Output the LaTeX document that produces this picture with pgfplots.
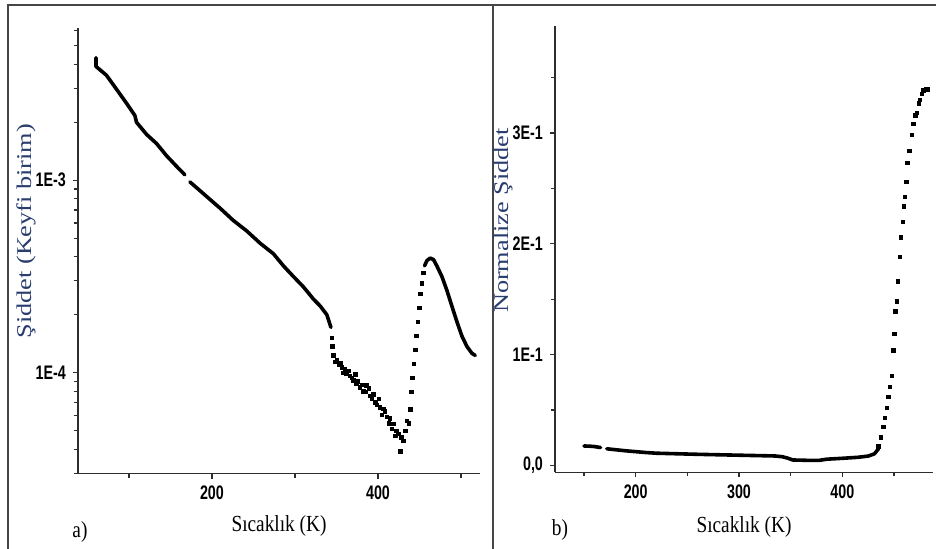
\documentclass[border=0pt]{standalone}
\usepackage{fontspec}
\setmainfont{Liberation Serif}
\newfontfamily\tickfont[FakeStretch=0.73]{Liberation Sans}
\newfontfamily\xlabfont[FakeStretch=0.84]{Liberation Serif}
\newfontfamily\ylabfont[FakeStretch=1.25]{Liberation Serif}
\usepackage{pgfplots}
\pgfplotsset{compat=1.18}
\definecolor{ylab}{RGB}{40,60,110}
\definecolor{axc}{RGB}{45,45,45}
\definecolor{framec}{RGB}{70,70,70}

\pgfplotsset{
  common/.style={
    scale only axis,
    axis x line*=bottom, axis y line*=left,
    axis line style={axc, line width=0.65pt},
    every tick/.style={axc, line width=0.6pt},
    tick align=outside,
    major tick length=2.5pt, minor tick length=2pt,
    ticklabel style={font=\tickfont\bfseries\fontsize{9.8}{10}\selectfont, text=black},
    xlabel style={font=\xlabfont\fontsize{11.5}{12}\selectfont, at={(axis description cs:0.5,0)}, anchor=center},
    ylabel style={font=\ylabfont\fontsize{10.5}{11}\selectfont, text=ylab, anchor=center},
    clip=false,
  },
  dense/.style={black, line width=1.8pt, line join=round, line cap=round, no markers},
  dots/.style={black, only marks, mark=square*, mark size=0.85pt},
}

\begin{document}
\begin{tikzpicture}[x=1pt,y=1pt]
\useasboundingbox (0,0) rectangle (468,274.5);
\draw[framec, line width=0.75pt] (4,0) -- (4,272) -- (468,272);
\draw[framec, line width=0.75pt] (246.5,0) -- (246.5,272);

% ---------- panel a ----------
\begin{axis}[common,
  at={(39pt,37.7pt)}, anchor=south west,
  width=201pt, height=222.8pt,
  ymode=log,
  xmin=38.6, xmax=522.9,
  ymin=2.99e-5, ymax=6.18e-3,
  xtick={200,400}, xticklabels={200,400},
  minor xtick={100,300,500},
  ytick={1e-4,1e-3}, yticklabels={1E-4,1E-3},
  minor ytick={3e-5,4e-5,5e-5,6e-5,7e-5,8e-5,9e-5,2e-4,3e-4,4e-4,5e-4,6e-4,7e-4,8e-4,9e-4,2e-3,3e-3,4e-3,5e-3,6e-3},
  xlabel={Sıcaklık (K)},
  xlabel style={yshift=-26.2pt},
  ylabel={Şiddet (Keyfi birim)},
  ylabel style={at={([xshift=-26pt]axis description cs:0,0.544)}},
]
\addplot[dense] table {
60.3 4.33e-3
60.3 3.90e-3
72.9 3.51e-3
85.0 2.97e-3
97.1 2.51e-3
107.1 2.17e-3
109.1 2.00e-3
121.2 1.73e-3
133.3 1.55e-3
145.3 1.34e-3
157.4 1.18e-3
167.4 1.066e-3
};
\addplot[dense] table {
173.4 9.8e-4
185.5 8.83e-4
197.6 7.95e-4
209.7 7.16e-4
225.7 6.18e-4
241.9 5.45e-4
257.9 4.71e-4
274.0 4.15e-4
286.1 3.59e-4
298.1 3.16e-4
310.2 2.79e-4
322.3 2.41e-4
330.4 2.22e-4
338.4 2.00e-4
343.3 1.72e-4
};
\addplot[dots] table {
344.5 1.52e-4
345.3 1.37e-4
346.5 1.23e-4
348.0 1.14e-4
350.5 1.16e-4
353.0 1.10e-4
355.0 1.12e-4
356.6 1.066e-4
358.5 1.00e-4
360.0 1.05e-4
362.0 9.9e-5
364.6 1.02e-4
366.0 9.6e-5
368.6 9.4e-5
370.5 9.1e-5
372.6 9.8e-5
374.0 8.8e-5
376.0 9.0e-5
378.5 8.4e-5
380.7 8.65e-5
382.5 8.0e-5
384.7 7.95e-5
386.0 8.6e-5
388.7 8.28e-5
390.5 7.6e-5
392.7 7.31e-5
394.5 7.7e-5
396.7 7.0e-5
398.5 6.8e-5
400.8 7.31e-5
402.0 6.6e-5
404.8 6.05e-5
406.5 6.5e-5
408.0 6.3e-5
410.5 5.9e-5
412.8 5.46e-5
414.0 5.8e-5
416.8 5.12e-5
418.5 5.4e-5
420.8 4.71e-5
422.0 5.0e-5
424.8 4.81e-5
426.8 3.90e-5
428.0 4.6e-5
430.8 4.43e-5
432.9 5.0e-5
434.5 5.6e-5
436.9 5.46e-5
439.0 6.44e-5
440.1 7.95e-5
441.7 9.4e-5
443.3 1.11e-4
444.9 1.31e-4
446.5 1.55e-4
448.1 1.84e-4
449.7 2.17e-4
451.3 2.57e-4
452.9 2.91e-4
454.5 3.30e-4
};
\addplot[dense] table {
456.1 3.59e-4
458.9 3.82e-4
462.9 3.94e-4
466.9 3.87e-4
470.9 3.59e-4
477.0 3.16e-4
483.0 2.68e-4
489.0 2.22e-4
495.1 1.84e-4
501.1 1.55e-4
507.1 1.37e-4
513.2 1.26e-4
517.2 1.23e-4
};
\end{axis}

% ---------- panel b ----------
\begin{axis}[common,
  at={(277.5pt,38.25pt)}, anchor=south west,
  width=189pt, height=223.25pt,
  xmin=121.9, xmax=487.8,
  ymin=-0.0063, ymax=0.3966,
  xtick={200,300,400}, xticklabels={200,300,400},
  minor xtick={150,250,350,450},
  ytick={0,0.1,0.2,0.3}, yticklabels={{0,0},1E-1,2E-1,3E-1},
  minor ytick={0.05,0.15,0.25,0.35},
  xlabel={Sıcaklık (K)},
  xlabel style={yshift=-27.2pt},
  ylabel={Normalize Şiddet},
  ylabel style={at={([xshift=-26pt]axis description cs:0,0.564)}},
]
\addplot[dense] table {
150 0.0176
155 0.0175
160 0.0171
166 0.0162
};
\addplot[dense] table {
172 0.0151
180 0.0143
190 0.0133
200 0.0125
210 0.0117
220 0.0111
240 0.0106
260 0.0101
280 0.0097
300 0.0093
320 0.0089
335 0.0086
342 0.0079
347 0.0067
352 0.0050
365 0.0047
378 0.0047
385 0.0057
400 0.0065
415 0.0074
425 0.0085
431 0.0105
435 0.0150
};
\addplot[dots] table {
434.9 0.0173
437.2 0.0253
439.7 0.0347
441.3 0.0429
442.9 0.0520
444.5 0.0618
446.1 0.0710
447.8 0.0808
449.4 0.1040
450.4 0.1186
451.3 0.1390
452.6 0.1480
453.6 0.1660
455.8 0.1880
456.8 0.2060
458.4 0.2197
459.7 0.2337
460.7 0.2423
462.0 0.2558
463.0 0.2732
465.0 0.2837
467.5 0.2985
468.8 0.3082
470.8 0.3159
472.1 0.3184
474.3 0.3269
475.3 0.3300
476.9 0.3355
478.6 0.3386
481.2 0.3395
482.8 0.3395
};
\end{axis}

\node[font=\xlabfont\fontsize{11.5}{12}\selectfont] at (40,8.5) {a)};
\node[font=\xlabfont\fontsize{11.5}{12}\selectfont] at (280,9.5) {b)};
\end{tikzpicture}
\end{document}
